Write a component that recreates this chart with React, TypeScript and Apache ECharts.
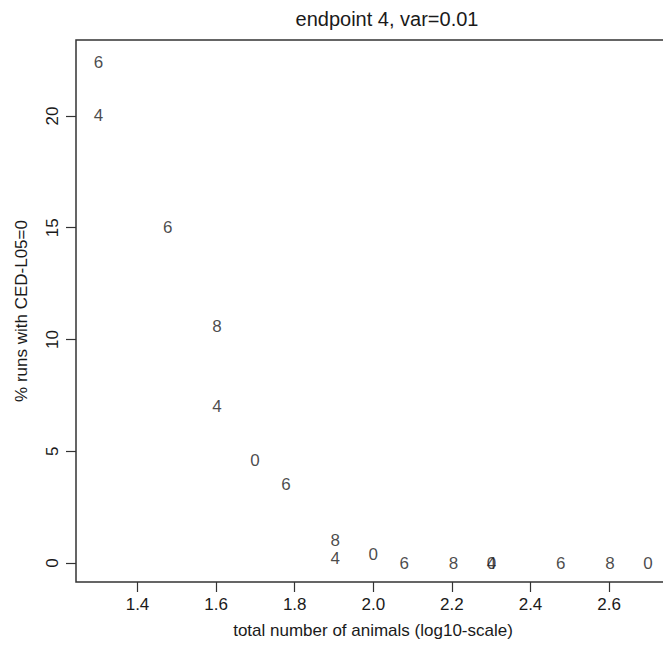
import React, { useEffect, useRef } from "react";
import * as echarts from "echarts";

// log10(total number of animals)
const xValues = [1.301, 1.301, 1.477, 1.602, 1.602, 1.699, 1.778, 1.903, 1.903, 2.0, 2.079, 2.204, 2.301, 2.301, 2.477, 2.602, 2.699];
// % runs with CED-L05=0
const yValues = [22.4, 20.0, 15.0, 10.6, 7.0, 4.6, 3.5, 1.0, 0.2, 0.4, 0, 0, 0, 0, 0, 0, 0];
// plotting characters
const pointLabels = ["6", "4", "6", "8", "4", "0", "6", "8", "4", "0", "6", "8", "4", "0", "6", "8", "0"];

const xTicks = [1.4, 1.6, 1.8, 2.0, 2.2, 2.4, 2.6];
const yTicks = [0, 5, 10, 15, 20];

const titleText = "endpoint 4, var=0.01";
const xName = "total number of animals (log10-scale)";
const yName = "% runs with CED-L05=0";

const FONT = "'Liberation Sans', Arial, Helvetica, sans-serif";
const INK = "#1a1a1a";

export default function App() {
  const ref = useRef<HTMLDivElement>(null);
  useEffect(() => {
    if (!ref.current) return;
    const chart = echarts.init(ref.current, undefined, { renderer: "svg" });
    const data = xValues.map((x, i) => ({ value: [x, yValues[i]], name: pointLabels[i] }));
    chart.setOption({
      animation: false,
      backgroundColor: "#fff",
      textStyle: { fontFamily: FONT },
      graphic: [
        {
          type: "text",
          x: 387,
          y: 19,
          style: {
            text: titleText,
            align: "center",
            verticalAlign: "middle",
            fontSize: 20,
            fontFamily: FONT,
            fill: INK,
          },
        },
      ],
      grid: {
        left: 76,
        top: 40,
        right: -7,
        bottom: 68,
        outerBoundsMode: "none",
        containLabel: false,
        show: true,
        borderColor: "#333",
        borderWidth: 1.5,
        backgroundColor: "transparent",
      },
      xAxis: {
        type: "value",
        min: 1.2435,
        max: 2.755,
        name: xName,
        nameLocation: "middle",
        nameGap: 40,
        nameTextStyle: { fontSize: 17, color: INK, fontFamily: FONT },
        axisLine: { show: false, onZero: false },
        splitLine: { show: false },
        axisTick: {
          show: true,
          length: 10,
          customValues: xTicks,
          lineStyle: { color: "#333", width: 1.2 },
        },
        axisLabel: {
          show: true,
          customValues: xTicks,
          margin: 14,
          fontSize: 17,
          color: INK,
          fontFamily: FONT,
          formatter: (v: number) => v.toFixed(1),
        },
      },
      yAxis: {
        type: "value",
        min: -0.85,
        max: 23.4,
        name: yName,
        nameLocation: "middle",
        nameGap: 46,
        nameRotate: 90,
        nameTextStyle: { fontSize: 17, color: INK, fontFamily: FONT },
        axisLine: { show: false, onZero: false },
        splitLine: { show: false },
        axisTick: {
          show: true,
          length: 10,
          customValues: yTicks,
          lineStyle: { color: "#333", width: 1.2 },
        },
        axisLabel: {
          show: true,
          customValues: yTicks,
          rotate: 90,
          margin: 15,
          fontSize: 17,
          color: INK,
          fontFamily: FONT,
        },
      },
      series: [
        {
          type: "scatter",
          data,
          symbol: "circle",
          symbolSize: 1,
          itemStyle: { color: "rgba(0,0,0,0)" },
          label: {
            show: true,
            position: "inside",
            formatter: (p: any) => p.name,
            fontSize: 17,
            color: INK,
            fontFamily: FONT,
            offset: [0, 3],
          },
          labelLayout: { hideOverlap: false },
          emphasis: { disabled: true },
        },
      ],
    });
    return () => chart.dispose();
  }, []);
  return (
    <div
      ref={ref}
      style={{ position: "fixed", left: 0, top: 0, width: 663, height: 650, overflow: "hidden" }}
    />
  );
}
